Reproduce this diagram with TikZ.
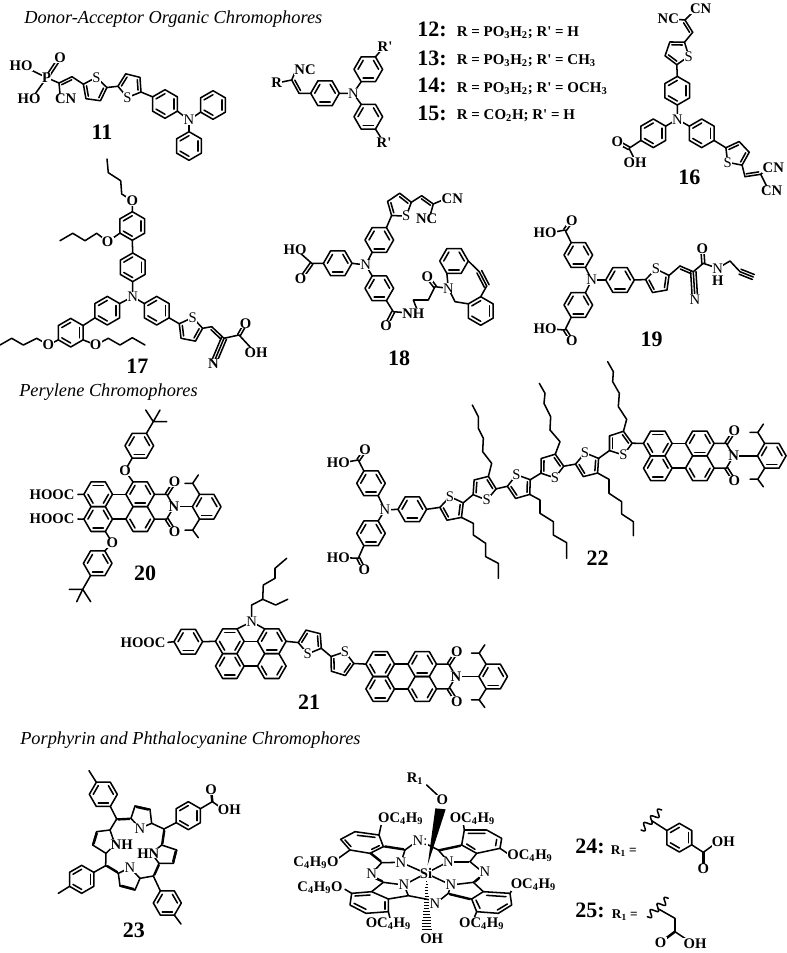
\documentclass[tikz,border=0pt]{standalone}
\usepackage{fontspec}
\setmainfont{Liberation Serif}
\usetikzlibrary{calc}
\tikzset{
 bond/.style={line width=1.15pt,line join=round,line cap=round,black},
 atomr/.style={fill=white,inner sep=.2pt,font=\fontsize{11}{12}\selectfont},
 atomb/.style={fill=white,inner sep=.2pt,font=\fontsize{11}{12}\selectfont\bfseries},
 cnumber/.style={inner sep=0pt,font=\fontsize{16.5}{18}\selectfont\bfseries},
 rtext/.style={anchor=west,inner sep=0pt,font=\fontsize{11.2}{12}\selectfont\bfseries},
 heading/.style={anchor=west,inner sep=0pt,font=\fontsize{13.75}{16}\selectfont\itshape},
}
\def\RR{14.3}
\def\TR{12.5}
\newcounter{nd}
\newcommand\aR[3]{\stepcounter{nd}\node[atomr] (n\arabic{nd}) at (#1,#2) {#3};}
\newcommand\aB[3]{\stepcounter{nd}\node[atomb] (n\arabic{nd}) at (#1,#2) {#3};}
\newcommand\cnum[3]{\stepcounter{nd}\node[cnumber] (n\arabic{nd}) at (#1,#2) {#3};}
% ring: id, x, y, rotation, edges with inner line
\newcommand\rng[5]{\begin{scope}[shift={(#2,#3)}]
 \foreach \i in {0,...,5}{\coordinate (#1\i) at ({#4+\i*60}:\RR);}
 \draw[bond] (#10)--(#11)--(#12)--(#13)--(#14)--(#15)--cycle;
 \foreach \e in {#5}{\draw[bond] ({#4+\e*60}:{.72*\RR}) -- ({#4+(\e+1)*60}:{.72*\RR});}
 \end{scope}}
% thiophene: id, x, y, angle of S
\newcommand\thio[4]{\begin{scope}[shift={(#2,#3)}]
 \foreach \i in {0,...,4}{\coordinate (#1\i) at ({#4+\i*72}:\TR);}
 \draw[bond] (#10)--(#11)--(#12)--(#13)--(#14)--cycle;
 \draw[bond] ({#4+72}:{.72*\TR}) -- ({#4+144}:{.72*\TR});
 \draw[bond] ({#4+216}:{.72*\TR}) -- ({#4+288}:{.72*\TR});
 \stepcounter{nd}\node[atomr] (n\arabic{nd}) at (#4:\TR) {S};
 \end{scope}}
\newcommand\dbond[3]{\draw[bond] (#1)--(#2);
 \draw[bond,shorten <=1.2pt,shorten >=1.2pt] ($(#1)!#3!90:(#2)$) -- ($(#2)!#3!-90:(#1)$);}
\newcommand\dbsym[2]{%
 \draw[bond] ($(#1)!1.1pt!90:(#2)$) -- ($(#2)!1.1pt!-90:(#1)$);
 \draw[bond] ($(#1)!1.1pt!-90:(#2)$) -- ($(#2)!1.1pt!90:(#1)$);}
\newcommand\tbond[2]{\draw[bond] (#1)--(#2);
 \draw[bond] ($(#1)!2pt!90:(#2)$) -- ($(#2)!2pt!-90:(#1)$);
 \draw[bond] ($(#1)!2pt!-90:(#2)$) -- ($(#2)!2pt!90:(#1)$);}
\newcommand\peryl[3]{%
 \rng{#1a}{#2-21}{#3-12.4}{0}{0,2,4}
 \rng{#1b}{#2-21}{#3+12.4}{0}{1,3,5}
 \rng{#1c}{#2+21}{#3-12.4}{0}{1,3,5}
 \rng{#1d}{#2+21}{#3+12.4}{0}{0,2}
 \draw[bond] (#1a0)--(#1c3) (#1b0)--(#1d3);}
\newcommand\imide[4]{%
 \begin{scope}[shift={(#2,#3)}]
 \coordinate (#1u) at (47.5,-12.4); \coordinate (#1l) at (47.5,12.4);
 \coordinate (#1N) at (54.8,0);
 \coordinate (#1Ou) at (55.5,-25); \coordinate (#1Ol) at (55.5,25);
 \draw[bond] (#1c0)--(#1u)--(#1N)--(#1l)--(#1d0);
 \dbsym{#1u}{#1Ou}\dbsym{#1l}{#1Ol}
 \rng{#1r}{#4}{0}{0}{1,3,5}
 \draw[bond] (#1N)--(#1r3);
 \begin{scope}[shift={(#4,0)}]
 \draw[bond] (#1r4)--(-14,-23.4)--(-21.7,-23.4) (-14,-23.4)--(-8.4,-31.7);
 \draw[bond] (#1r2)--(-14,23.4)--(-21.7,23.4) (-14,23.4)--(-8.4,31);
 \end{scope}
 \aB{55.5}{-25}{O}\aB{55.5}{25}{O}\aB{54.8}{0}{N}
 \end{scope}}
\begin{document}
\begin{tikzpicture}[x=.75pt,y=-.75pt]
\useasboundingbox (0,0) rectangle (786,953);
\fill[white] (0,0) rectangle (786,953);
\node[heading] (h1) at (24,19) {Donor-Acceptor Organic Chromophores};
\node[heading] (h2) at (19,392) {Perylene Chromophores};
\node[heading] (h3) at (20,740) {Porphyrin and Phthalocyanine Chromophores};
%%% 11
\thio{ka}{94.6}{89.7}{-82}
\thio{kb}{130.4}{85.4}{104}
\rng{kc}{165}{104}{-90}{1,3,5}
\rng{kd}{213}{105}{-90}{1,3,5}
\rng{ke}{189}{146}{-90}{1,3,5}
\coordinate (kN) at (189,120);
\coordinate (kP) at (46.7,77.7);\coordinate (kC) at (59,83);\coordinate (kH) at (72,76.7);
\draw[bond] (ka4)--(kH) (ka1)--(kb1) (kb4)--(kc5) (kc2)--(kN)--(kd4) (kN)--(ke0);
\dbond{kC}{kH}{-2pt}
\draw[bond] (kP)--(kC) (kC)--(60,94) (kP)--(27,68) (kP)--(33,97);
\coordinate (kO) at (60,57.7);
\dbsym{kP}{kO}
\aB{21}{65.7}{HO}\aB{29}{99}{HO}\aB{60}{57.7}{O}\aB{46.7}{77.7}{P}\aB{65.7}{99}{CN}\aR{189}{120}{N}
\cnum{102}{132}{11}
%%% core 12-15
\rng{ca}{325}{93.3}{0}{1,3,5}
\rng{cb}{368.3}{69.3}{0}{1,3,5}
\rng{cc}{368.3}{116.7}{0}{1,3,5}
\coordinate (cN) at (353.3,93.3);\coordinate (cC) at (291.7,80);\coordinate (cH) at (299,93.3);
\draw[bond] (ca0)--(cN)--(cb2) (cN)--(cc4) (ca3)--(cH) (cC)--(277,83) (cC)--(296,70) (cb5)--(383,48) (cc1)--(383,141);
\dbond{cC}{cH}{2pt}
\aB{276.7}{82.3}{R}\aB{305}{70}{NC}\aR{353.3}{93.3}{N}\aB{385}{46.7}{R\textquotesingle}\aB{384}{142.3}{R\textquotesingle}
\node[cnumber,anchor=west] (q12) at (417,29.3) {12:};
\node[cnumber,anchor=west] (q13) at (417,58) {13:};
\node[cnumber,anchor=west] (q14) at (417,85) {14:};
\node[cnumber,anchor=west] (q15) at (417,113) {15:};
\node[rtext] (t12) at (456.7,32.7) {R = PO\textsubscript{3}H\textsubscript{2}; R\textquotesingle{} = H};
\node[rtext] (t13) at (456.7,61) {R = PO\textsubscript{3}H\textsubscript{2}; R\textquotesingle{} = CH\textsubscript{3}};
\node[rtext] (t14) at (456.7,89) {R = PO\textsubscript{3}H\textsubscript{2}; R\textquotesingle{} = OCH\textsubscript{3}};
\node[rtext] (t15) at (456.7,116) {R = CO\textsubscript{2}H; R\textquotesingle{} = H};
%%% 16
\thio{da}{677}{52.2}{19}
\rng{db}{677.3}{90.7}{-90}{1,3,5}
\rng{dc}{653.3}{133.3}{-90}{1,3,5}
\rng{dd}{701.7}{133.3}{-90}{1,3,5}
\thio{de}{736.8}{153.8}{137}
\coordinate (dN) at (677.3,119.3);
\draw[bond] (da1)--(db0) (db3)--(dN)--(dc1) (dN)--(dd5) (dd2)--(de1) (da4)--(692.7,32.3) (dc4)--(629,148.3)--(635,160) (685,20)--(672,19) (685,20)--(695,10);
\coordinate (dC) at (692.7,32.3);\coordinate (dD) at (685,20);
\dbond{dC}{dD}{2pt}
\coordinate (dK) at (629,148.3);\coordinate (dO) at (617.3,141.7);
\dbsym{dK}{dO}
\coordinate (dF) at (745,176.7);\coordinate (dG) at (760.7,174.3);
\draw[bond] (de4)--(dF) (dG)--(768,168) (dG)--(768,189);
\dbond{dF}{dG}{2pt}
\aB{700.7}{9}{CN}\aB{668.3}{19}{NC}\aR{677.3}{119.3}{N}\aB{617.3}{141.7}{O}\aB{635}{162.3}{OH}
\aB{773.3}{167.7}{CN}\aB{771.7}{190.7}{CN}
\cnum{689.3}{177.3}{16}
%%% 17
\rng{sa}{132.7}{267.3}{-90}{1,3,5}
\rng{sb}{132.3}{226}{-90}{1,3,5}
\rng{sc}{107.3}{310.7}{-90}{1,3,5}
\rng{sd}{70.7}{332.7}{-90}{1,3,5}
\rng{se}{156.7}{310.7}{-90}{1,3,5}
\thio{sf}{190.2}{329.8}{-79}
\coordinate (sN) at (132.7,296.7);
\draw[bond] (sa3)--(sN)--(sc1) (sN)--(se5) (sa0)--(sb3) (sc4)--(sd1) (se2)--(sf4);
\draw[bond] (sb0)--(132.3,200.7)--(121.7,194)--(120.7,180.7)--(108.3,172.7)--(107,159);
\draw[bond] (sb4)--(107.7,241.7)--(96.7,233.3)--(85,240.7)--(72.7,233.3)--(60,240.7);
\draw[bond] (sd4)--(48.3,345)--(36.7,338.3)--(23.3,345)--(11.7,338.3)--(0,345);
\draw[bond] (sd2)--(95.7,345)--(108.3,338.3)--(120,345)--(132.3,337.7)--(145,345);
\coordinate (sH) at (211.7,326.7);\coordinate (sC) at (224,338.3);\coordinate (sK) at (239,335);\coordinate (sO) at (245.7,323.3);\coordinate (sX) at (214,362);
\draw[bond] (sf1)--(sH) (sC)--(sK)--(252,349);
\dbond{sH}{sC}{-2pt}
\dbsym{sK}{sO}
\tbond{sC}{sX}
\aB{132.3}{200.7}{O}\aB{107.7}{241.7}{O}\aB{48.3}{345}{O}\aB{95.7}{345}{O}\aR{132.7}{296.7}{N}
\aB{245.7}{323.3}{O}\aB{256}{352.7}{OH}\aB{213.3}{364}{N}
\cnum{137.3}{366.7}{17}
%%% 18
\rng{ea}{379.3}{240}{0}{1,3,5}
\rng{eb}{337.7}{263.3}{0}{1,3,5}
\rng{ec}{379.3}{288.3}{0}{1,3,5}
\thio{ed}{399.3}{205.7}{56}
\coordinate (eN) at (365.7,265);
\coordinate (eK) at (311.7,263.3);\coordinate (eO) at (300.7,279);
\coordinate (eH) at (421.7,195.7);\coordinate (eC) at (433.3,204);
\coordinate (eM) at (393.3,311.7);\coordinate (eP) at (386,325.7);
\coordinate (eQ) at (435,286.7);\coordinate (eR) at (427.3,276.7);\coordinate (eS) at (448.3,288.3);
\rng{ef}{454}{261}{0}{1,3,5}
\rng{eg}{480.7}{311}{-90}{1,3,5}
\draw[bond] (ea2)--(eN)--(eb0) (eN)--(ec4) (eb3)--(eK)--(299,252) (ea5)--(ed1) (ed4)--(eH) (eC)--(445,199) (eC)--(430,216);
\dbond{eH}{eC}{-2pt}
\dbsym{eK}{eO}
\draw[bond] (ec1)--(eM)--(410,313) (418,312)--(413.3,300)--(428.3,300)--(eQ)--(eS)--(ef2) (eS)--(455,301.7)--(eg5);
\dbsym{eM}{eP}\dbsym{eQ}{eR}
\draw[bond] (ef0)--(479.3,271.7) (486.7,286)--(eg0);
\coordinate (eT) at (479.3,271.7);\coordinate (eU) at (486.7,286);
\tbond{eT}{eU}
\aR{365.7}{265}{N}\aB{295}{249.3}{HO}\aB{300.7}{279}{O}\aB{452.3}{199}{CN}\aB{426.7}{219}{NC}
\aB{386}{325.7}{O}\aB{413.3}{313.3}{NH}\aB{427.3}{276.7}{O}\aR{448.3}{288.3}{N}
\cnum{399}{358.3}{18}
%%% 19
\rng{fa}{578.3}{255}{0}{1,3,5}
\rng{fb}{578.3}{305}{0}{1,3,5}
\rng{fc}{620}{280}{0}{1,3,5}
\thio{fd}{658}{281.3}{-100}
\coordinate (fN) at (591.7,280);
\coordinate (fK) at (565,230);\coordinate (fO) at (571.7,220.7);
\coordinate (fL) at (565,330);\coordinate (fP) at (571.7,340.7);
\coordinate (fH) at (680,266);\coordinate (fC) at (693.3,271.7);\coordinate (fM) at (703.3,263.3);\coordinate (fQ) at (702.3,249);
\coordinate (fR) at (695,299.3);\coordinate (fT) at (740,271.7);\coordinate (fU) at (753.3,277);
\draw[bond] (fa1)--(fN)--(fb5) (fN)--(fc3) (fa4)--(fK)--(551,232.7) (fb2)--(fL)--(551,329) (fc0)--(fd4) (fd1)--(fH);
\dbsym{fK}{fO}\dbsym{fL}{fP}
\dbond{fH}{fC}{-2pt}
\draw[bond] (fC)--(fM)--(717.7,268.3)--(730,261)--(fT);
\dbsym{fM}{fQ}
\tbond{fC}{fR}
\tbond{fT}{fU}
\aR{591.7}{280}{N}\aB{545}{232.7}{HO}\aB{571.7}{220.7}{O}\aB{545}{329}{HO}\aB{571.7}{340.7}{O}
\aB{702.3}{249}{O}\aR{717.7}{268.3}{N}\aB{717.7}{281}{H}\aR{695}{299.3}{N}
\cnum{651.7}{339}{19}
%%% 20
\peryl{g}{119.2}{506.7}
\imide{g}{119.2}{506.7}{87.5}
\draw[bond] (ga3)--(78,494.5) (gb3)--(78,519);
\rng{gp}{139.3}{445.7}{0}{1,3,5}
\rng{gq}{97.7}{563.3}{0}{1,3,5}
\draw[bond] (gc4)--(125,470.7)--(gp2) (gb1)--(112.3,542.7)--(gq5);
\draw[bond] (gp5)--(153.3,421.7)--(145.7,410) (153.3,421.7)--(160,410) (153.3,421.7)--(166.7,421.7);
\draw[bond] (gq2)--(82.7,589.3)--(69.3,589.3) (82.7,589.3)--(76.7,601.7) (82.7,589.3)--(90.7,601.7);
\node[atomb,anchor=east] (g1) at (75,495) {HOOC};
\node[atomb,anchor=east] (g2) at (75,519) {HOOC};
\aB{125}{470.7}{O}\aB{112.3}{542.7}{O}
\cnum{145}{573.3}{20}
%%% 21
\rng{ha}{188.3}{641.7}{0}{1,3,5}
\peryl{hp}{250.8}{653.7}
\thio{hb}{310.7}{641.7}{104}
\thio{hc}{341.3}{663.7}{-73}
\peryl{hq}{401.2}{676.5}
\imide{hq}{401.2}{676.5}{92}
\coordinate (hN) at (251.7,621.7);
\draw[bond] (ha0)--(hpa3) (hpa5)--(hN)--(hpc4) (hpc0)--(hb1) (hb4)--(hc4) (hc1)--(hqa3) (ha3)--(168,642.3);
\draw[bond] (hN)--(251.7,605)--(262.7,599.3)--(263.3,585)--(275,578.3)--(275,568.3)--(286.7,558.3);
\draw[bond] (262.7,599.3)--(275.7,605)--(287.7,599.3);
\aR{251.7}{621.7}{N}
\node[atomb,anchor=east] (h1b) at (166,642.3) {HOOC};
\cnum{309}{702.3}{21}
%%% 22
\rng{ia}{371}{483.3}{0}{1,3,5}
\rng{ib}{371}{533.3}{0}{1,3,5}
\rng{ic}{412.3}{509.3}{0}{1,3,5}
\coordinate (iN) at (385,510);
\coordinate (iK) at (358.3,460);\coordinate (iO) at (365,450);
\coordinate (iL) at (358.3,558.3);\coordinate (iP) at (364.3,570);
\draw[bond] (ia1)--(iN)--(ib5) (iN)--(ic3) (ia4)--(iK)--(345,462.3) (ib2)--(iL)--(345,557.7);
\dbsym{iK}{iO}\dbsym{iL}{iP}
\thio{ja}{452.3}{508.9}{-101}
\thio{jb}{483.7}{488}{76}
\thio{jc}{519.9}{486.7}{-106}
\thio{jd}{551.2}{466}{73}
\thio{je}{588}{465}{-104}
\thio{jf}{619.6}{443.2}{72}
\peryl{ip}{678.8}{455.8}
\imide{ip}{678.8}{455.8}{93}
\draw[bond] (ic0)--(ja4) (ja1)--(jb1) (jb4)--(jc4) (jc1)--(jd1) (jd4)--(je4) (je1)--(jf1) (jf4)--(ipa3);
\begin{scope}[shift={(310,360)},scale=.33333]
\draw[bond] (ja2)--(490,490)--(490,525)--(527,550)--(527,590)--(565,610)--(565,655);
\draw[bond] (jb3)--(545,310)--(518,275)--(520,235)--(505,205)--(505,170)--(487,135);
\draw[bond] (jc2)--(690,420)--(690,460)--(730,485)--(730,525)--(770,548)--(770,595);
\draw[bond] (jd3)--(750,245)--(720,210)--(722,170)--(702,130)--(705,100)--(688,70);
\draw[bond] (je2)--(897,358)--(897,400)--(935,425)--(935,462)--(970,485)--(970,527);
\draw[bond] (jf3)--(950,178)--(925,140)--(928,100)--(908,65)--(910,35)--(893,5);
\end{scope}
\aR{385}{510}{N}\aB{338.3}{462.3}{HO}\aB{365}{450}{O}\aB{338.3}{557.7}{HO}\aB{364.3}{570}{O}
\cnum{597.7}{558.3}{22}
%%% 23
\begin{scope}[shift={(20,750)},scale=.33333]
\def\RR{42}
\coordinate (M1) at (290,207);\coordinate (M2) at (432,237);\coordinate (M3) at (400,378);\coordinate (M4) at (257,347);
\coordinate (A1) at (333,205);\coordinate (A2) at (345,168);\coordinate (A3) at (390,178);\coordinate (A4) at (395,220);\coordinate (A5) at (360,235);
\coordinate (B1) at (425,285);\coordinate (B2) at (470,300);\coordinate (B3) at (460,340);\coordinate (B4) at (417,340);\coordinate (B5) at (395,310);
\coordinate (C1) at (295,370);\coordinate (C2) at (300,408);\coordinate (C3) at (345,420);\coordinate (C4) at (360,385);\coordinate (C5) at (330,353);
\coordinate (D1) at (270,240);\coordinate (D2) at (230,245);\coordinate (D3) at (218,285);\coordinate (D4) at (258,310);\coordinate (D5) at (285,283);
\draw[bond] (A1)--(A2)--(A3)--(A4)--(A5)--cycle;
\draw[bond] (B1)--(B2)--(B3)--(B4)--(B5)--cycle;
\draw[bond] (C1)--(C2)--(C3)--(C4)--(C5)--cycle;
\draw[bond] (D1)--(D2)--(D3)--(D4)--(D5)--cycle;
\dbond{A2}{A3}{-2.2pt}\dbond{B2}{B3}{-2.2pt}\dbond{C2}{C3}{2.2pt}\dbond{D2}{D3}{2.2pt}
\dbond{M1}{A1}{-2pt}\dbond{M2}{B1}{2pt}\dbond{M3}{B4}{-2pt}\dbond{M4}{C1}{2pt}
\draw[bond] (M1)--(D1) (M2)--(A4) (M3)--(C4) (M4)--(D4);
\rng{pa}{250}{133}{0}{1,3,5}
\rng{pb}{505}{197}{-90}{1,3,5}
\rng{pc}{442}{459}{0}{1,3,5}
\rng{pd}{185}{388}{-90}{1,3,5}
\draw[bond] (M1)--(pa1) (pa4)--(207,62) (M2)--(pb4) (M3)--(pc4) (pc1)--(483,522) (M4)--(pd1) (pd4)--(115,430);
\coordinate (pK) at (577,155);\coordinate (pO) at (573,118);
\draw[bond] (pb1)--(pK)--(610,178);
\dbsym{pK}{pO}
\aR{360}{235}{N}\aB{305}{283}{NH}\aB{385}{310}{HN}\aR{330}{353}{N}\aB{573}{118}{O}\aB{628}{180}{OH}
\cnum{342}{540}{23}
\end{scope}
%%% Pc
\begin{scope}[shift={(280,750)},scale=.33333]
\coordinate (Si) at (438,370);
\draw[bond] (363,337)--(Si)--(505,335) (372,405)--(Si)--(513,405);
\fill (443,345) -- (466,175) -- (497,178) -- cycle;
\draw[bond] (440,105)--(472,135);
\foreach \yy in {395,404,...,545}{\pgfmathsetmacro\hw{2+(\yy-395)*0.09}
 \draw[line width=.7pt] ({440-\hw},\yy) -- ({440+\hw},\yy);}
% upper left
\draw[bond] (225,245)--(297,255)--(310,290)--(270,310)--(210,300)--(182,268)--cycle;
\coordinate (u1) at (310,290);\coordinate (u2) at (375,300);\coordinate (u3) at (270,310);\coordinate (u4) at (305,338);
\dbond{u1}{u2}{2pt}\dbond{u3}{u4}{2pt}
\draw[bond] (375,300)--(363,337)--(305,338) (375,300)--(405,278) (305,338)--(285,360) (297,255)--(305,218) (210,300)--(175,325);
\draw[bond] (232,256)--(285,262) (195,270)--(213,290) (275,298)--(298,287);
% upper right
\draw[bond] (553,240)--(620,240)--(665,265)--(660,295)--(590,310)--(545,285)--cycle;
\coordinate (v1) at (475,300);\coordinate (v2) at (545,285);\coordinate (v3) at (505,335);\coordinate (v4) at (570,335);
\dbond{v1}{v2}{-2pt}\dbond{v3}{v4}{-2pt}
\draw[bond] (v1)--(v3) (v4)--(590,310) (v4)--(598,358) (553,240)--(550,222) (660,295)--(685,312) (435,280)--(v1);
\draw[bond] (565,250)--(615,250) (650,268)--(647,287) (560,282)--(585,298);
% lower right
\draw[bond] (610,425)--(690,430)--(695,465)--(655,490)--(590,485)--(575,447)--cycle;
\coordinate (w1) at (580,397);\coordinate (w2) at (610,425);\coordinate (w3) at (505,430);\coordinate (w4) at (575,447);\coordinate (w5) at (600,380);\coordinate (w6) at (480,450);
\dbond{w1}{w5}{-2pt}\dbond{w3}{w4}{-2pt}\draw[bond] (w3)--(w6);
\draw[bond] (513,405)--(w1)--(w2) (513,405)--(w3) (690,430)--(702,410) (590,485)--(582,505);
\draw[bond] (620,436)--(678,440) (682,462)--(652,480) (600,475)--(588,450);
% lower left
\draw[bond] (215,430)--(275,425)--(325,447)--(325,485)--(258,490)--(210,465)--cycle;
\coordinate (x1) at (310,397);\coordinate (x2) at (275,425);\coordinate (x3) at (385,437);\coordinate (x4) at (325,447);
\draw[bond] (372,405)--(x1)--(x2) (372,405)--(x3) (x3)--(x4) (x3)--(452,450);
\dbond{x1}{285,385}{-2pt}
\draw[bond] (215,430)--(195,418) (325,485)--(330,505);
\draw[bond] (225,438)--(270,435) (222,460)--(258,478) (315,455)--(315,478);
\aB{405}{85}{R\textsubscript{1}}\aB{487}{150}{O}
\aB{362}{205}{OC\textsubscript{4}H\textsubscript{9}}\aB{577}{207}{OC\textsubscript{4}H\textsubscript{9}}
\aB{108}{338}{C\textsubscript{4}H\textsubscript{9}O}\aB{750}{317}{OC\textsubscript{4}H\textsubscript{9}}
\aB{120}{412}{C\textsubscript{4}H\textsubscript{9}O}\aB{760}{405}{OC\textsubscript{4}H\textsubscript{9}}
\aB{325}{522}{OC\textsubscript{4}H\textsubscript{9}}\aB{605}{520}{OC\textsubscript{4}H\textsubscript{9}}
\aR{420}{272}{N:}\aR{363}{337}{N}\aR{505}{335}{N}\aR{372}{405}{N}\aR{513}{405}{N}\aR{275}{372}{N}\aR{615}{365}{N}\aR{465}{462}{N}
\aB{438}{370}{Si}\aB{455}{565}{OH}
\end{scope}
%%% 24 / 25
\begin{scope}[shift={(560,790)},scale=.33333]
\def\RR{43}
\node[cnumber,anchor=west] (r24) at (45,168) {24:};
\node[cnumber,anchor=west] (r25) at (45,362) {25:};
\node[anchor=west,inner sep=0pt,font=\fontsize{10}{11}\selectfont\bfseries] (s24) at (152,182) {R\textsubscript{1} =};
\node[anchor=west,inner sep=0pt,font=\fontsize{10}{11}\selectfont\bfseries] (s25) at (155,375) {R\textsubscript{1} =};
\rng{za}{358}{143}{-90}{1,3,5}
\draw[bond] plot[domain=0:1,samples=48,smooth] ({243+62*\x+7*sin(1080*\x)},{120-60*\x+7*sin(1080*\x)});
\coordinate (zK) at (430,187);\coordinate (zO) at (430,237);
\draw[bond] (275,92)--(za5) (za2)--(zK)--(460,165);
\dbsym{zK}{zO}
\aB{430}{237}{O}\aB{490}{155}{OH}
\draw[bond] plot[domain=0:1,samples=48,smooth] ({262+63*\x+7*sin(1080*\x)},{380-55*\x+7*sin(1080*\x)});
\coordinate (yK) at (345,425);\coordinate (yO) at (302,457);
\draw[bond] (294,356)--(345,385)--(yK)--(385,452);
\dbsym{yK}{yO}
\aB{302}{457}{O}\aB{405}{460}{OH}
\end{scope}
\end{tikzpicture}
\end{document}
